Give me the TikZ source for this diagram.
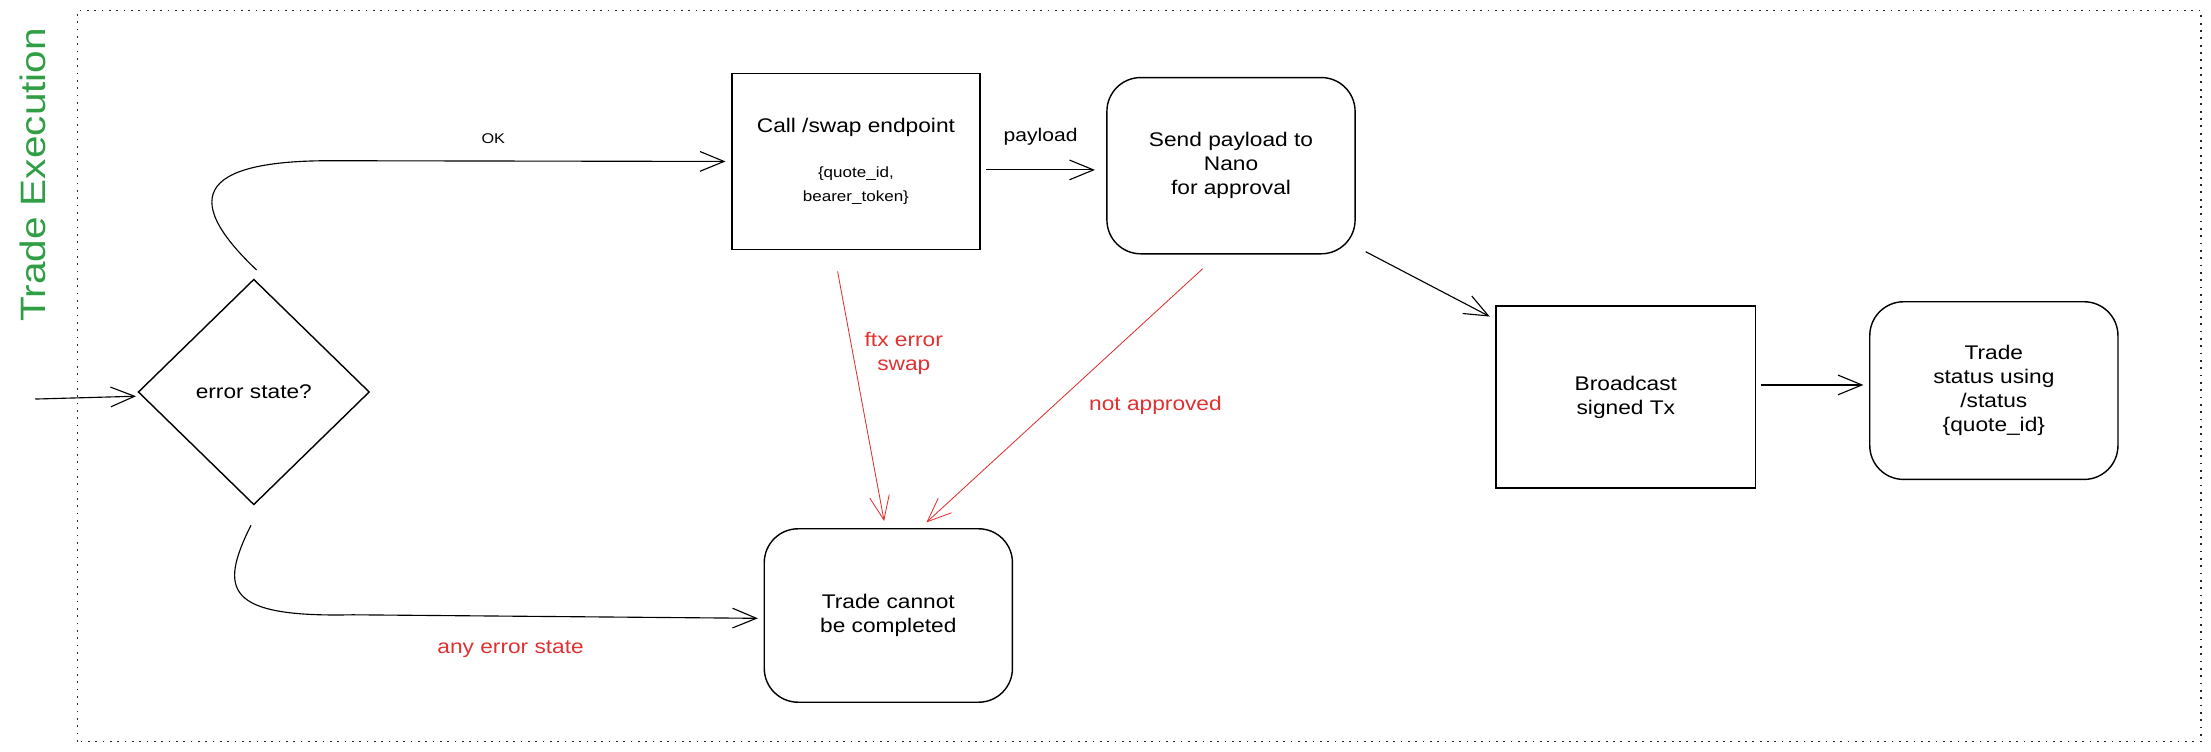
\documentclass[tikz,border=0pt]{standalone}
\usepackage{fontspec}
\setmainfont[FakeStretch=1.15]{Liberation Sans}
\usepackage{xcolor}
\usepackage{tikz}
\usetikzlibrary{arrows.meta}
\usetikzlibrary{shapes.geometric}
\usetikzlibrary{positioning, calc}

\definecolor{xred}{RGB}{224,49,49}
\definecolor{xgreen}{RGB}{47,158,68}
\newcommand{\argfont}{\fontsize{10.5}{15.5}\selectfont}

\begin{document}
\begin{tikzpicture}[x=1pt,y=1pt]
\useasboundingbox (0,0) rectangle (1568,533);
\draw[black!85, line width=1pt, dash pattern=on 1.2pt off 4pt] (55,7) rectangle (1561,525.5);
\node[rotate=90, text=xgreen, inner sep=0pt, font=\fontsize{25}{30}\selectfont] (Title) at (23,409) {Trade Execution};

\begin{scope}[every node/.style={draw,line width=1pt,align=center,inner sep=0pt,font=\fontsize{14}{17}\selectfont}]
    \node[diamond, minimum width=164pt, minimum height=160pt] (Err) at (180,255) {error state?};
    \node[rectangle, minimum width=176pt, minimum height=125pt] (Call) at (607,418.5)
        {Call /swap endpoint\\[15pt]\argfont\{quote\_id,\\\argfont bearer\_token\}};
    \node[rectangle, rounded corners=24pt, minimum width=176pt, minimum height=125pt] (Nano) at (873,415.5)
        {Send payload to\\Nano\\for approval};
    \node[rectangle, rounded corners=24pt, minimum width=176pt, minimum height=123pt] (Fail) at (630,96.5)
        {Trade cannot\\be completed};
    \node[rectangle, minimum width=184pt, minimum height=129pt] (Cast) at (1153,251.5)
        {Broadcast\\signed Tx};
    \node[rectangle, rounded corners=24pt, minimum width=176pt, minimum height=126pt] (Stat) at (1414,256)
        {Trade\\status using\\/status\\\{quote\_id\}};
\end{scope}

\begin{scope}[>={Straight Barb[length=17pt,width=14pt]},
              line width=0.8pt,
              every node/.style={inner sep=0pt,align=center},
              errline/.style={draw=xred,line width=0.6pt},
              errlabel/.style={text=xred,font=\fontsize{14}{17}\selectfont}]
    \coordinate (In) at (25,250);
    \path [->] (In) edge ([shift={(-1pt,-3pt)}]Err.west);
    \draw [->] ([shift={(2pt,6pt)}]Err.north) .. controls +(-57pt,54pt) and +(-95pt,1pt) .. (240,419)
        -- node[pos=0.4,above=12pt,font=\fontsize{10}{12}\selectfont] {OK} ([xshift=-4pt]Call.west);
    \draw [->] ([shift={(-2pt,-14pt)}]Err.south) .. controls +(-23pt,-46pt) and +(-90pt,-2pt) .. (250,97)
        -- node[pos=0.39,below=17pt,errlabel] {any error state} ([shift={(-4pt,-2pt)}]Fail.west);
    \path [->] ([shift={(4pt,-6pt)}]Call.east) edge node[above=17pt,font=\fontsize{13}{15}\selectfont] {payload}
        ([shift={(-8pt,-3pt)}]Nano.west);
    \path [->] ([shift={(7pt,2pt)}]Nano.south east) edge ([shift={(-4pt,-8pt)}]Cast.north west);
    \path [->] ([shift={(3pt,8.5pt)}]Cast.east) edge ([shift={(-4pt,4pt)}]Stat.west);
    \path [->] ([shift={(-13pt,-15pt)}]Call.south) edge[errline] node[pos=0.33,right=8pt,errlabel] {ftx error\\swap}
        ([shift={(-3pt,5pt)}]Fail.north);
    \path [->] ([shift={(-20pt,-10pt)}]Nano.south) edge[errline] node[pos=0.54,right=25pt,errlabel] {not approved}
        ([shift={(27pt,4pt)}]Fail.north);
\end{scope}
\end{tikzpicture}
\end{document}
